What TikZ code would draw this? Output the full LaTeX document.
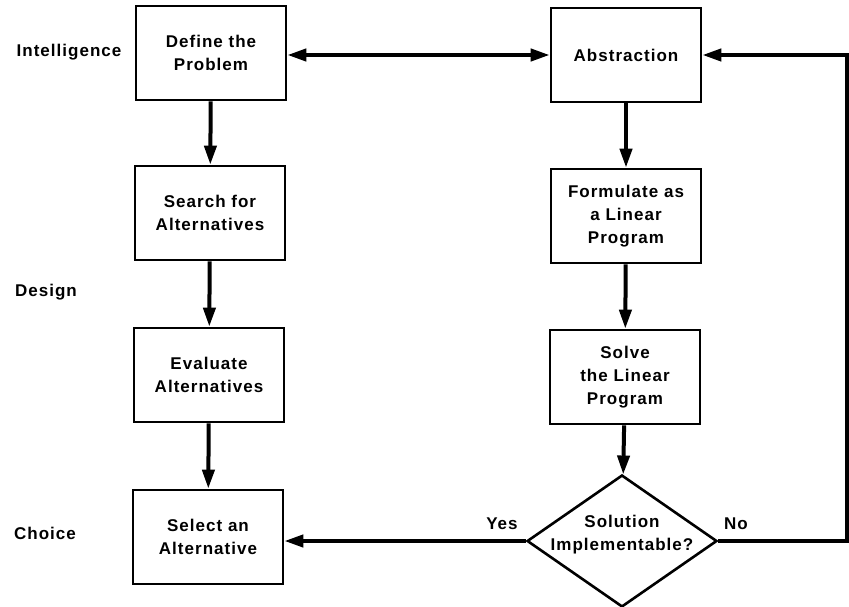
\documentclass[tikz,border=0pt]{standalone}
\usepackage{fontspec}
\setmainfont{Liberation Sans}[LetterSpace=6.0]
\usetikzlibrary{arrows.meta,shapes.geometric}
\begin{document}
\begin{tikzpicture}[x=1pt,y=-1pt,
  txt/.style={font=\bfseries\fontsize{17}{23}\selectfont,align=center},
  box/.style={txt,draw,line width=2.6pt,minimum width=150pt,minimum height=94pt,inner sep=0pt},
  dec/.style={draw,line width=2.6pt,shape=diamond,minimum width=190pt,minimum height=132pt,inner sep=0pt},
  tip/.tip={Triangle[length=19pt,width=12pt]},
  arr/.style={line width=4pt,-tip},
  lab/.style={txt,inner sep=0pt}]
\useasboundingbox (0,0) rectangle (849,607);
% left column
\node[box] (def) at (211,53) {Define the\\Problem};
\node[box] (search) at (210,213) {Search for\\Alternatives};
\node[box] (eval) at (209,375) {Evaluate\\Alternatives};
\node[box] (sel) at (208,537) {Select an\\Alternative};
% right column
\node[box] (abs) at (626,55) {Abstraction};
\node[box] (form) at (626,216) {Formulate as\\a Linear\\Program};
\node[box] (solve) at (625,377) {Solve\\the Linear\\Program};
\node[dec] (decide) at (622,541) {};
\node[lab] (dtext) at (622,535) {Solution\\Implementable?};
% phase labels
\node[lab] (intel) at (69,52) {Intelligence};
\node[lab] (design) at (46,292) {Design};
\node[lab] (choice) at (45,533) {Choice};
\node[lab] (yes) at (502,524) {Yes};
\node[lab] (no) at (736,524) {No};
% connectors
\draw[arr] (def) -- (search);
\draw[arr] (search) -- (eval);
\draw[arr] (eval) -- (sel);
\draw[arr] (abs) -- (form);
\draw[arr] (form) -- (solve);
\draw[arr] (solve) -- (decide);
\draw[line width=4pt,tip-tip] (abs.west -| def.east) -- (abs.west);
\draw[arr] (decide.west) -- (decide.west -| sel.east);
\coordinate (rc) at (847,541);
\draw[arr] (decide.east) -- (rc) |- (abs.east);
\end{tikzpicture}
\end{document}
